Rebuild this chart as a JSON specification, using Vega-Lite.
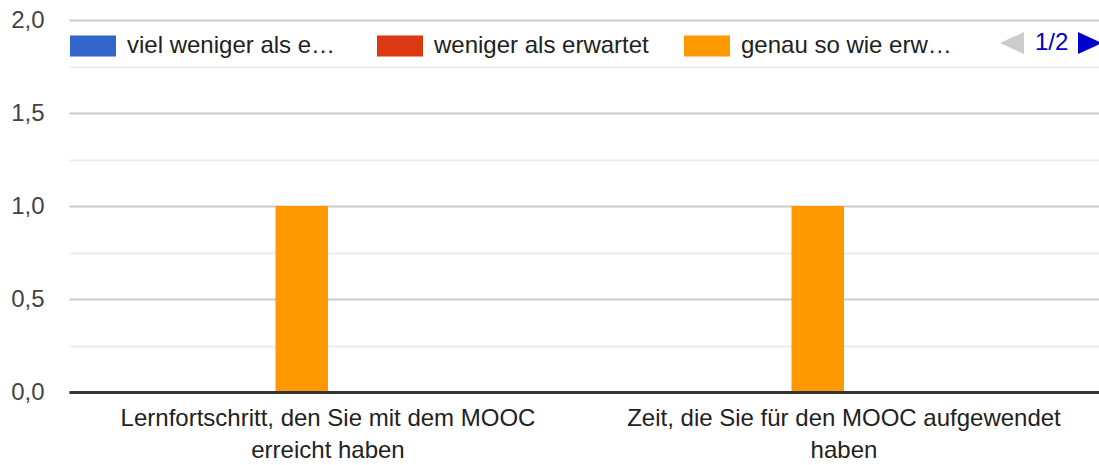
{
  "$schema": "https://vega.github.io/schema/vega-lite/v6.json",
  "width": 1030,
  "height": 372,
  "autosize": {"type": "none"},
  "padding": {"left": 69, "top": 20, "right": 0, "bottom": 73},
  "background": "white",
  "config": {"view": {"stroke": null}, "font": "Liberation Sans"},
  "datasets": {
    "antworten": [
      {"kategorie": "Lernfortschritt, den Sie mit dem MOOC erreicht haben", "antwort": "viel weniger als erwartet", "anzahl": 0},
      {"kategorie": "Lernfortschritt, den Sie mit dem MOOC erreicht haben", "antwort": "weniger als erwartet", "anzahl": 0},
      {"kategorie": "Lernfortschritt, den Sie mit dem MOOC erreicht haben", "antwort": "genau so wie erwartet", "anzahl": 1},
      {"kategorie": "Lernfortschritt, den Sie mit dem MOOC erreicht haben", "antwort": "mehr als erwartet", "anzahl": 0},
      {"kategorie": "Lernfortschritt, den Sie mit dem MOOC erreicht haben", "antwort": "viel mehr als erwartet", "anzahl": 0},
      {"kategorie": "Lernfortschritt, den Sie mit dem MOOC erreicht haben", "antwort": "keine Angabe", "anzahl": 0},
      {"kategorie": "Zeit, die Sie für den MOOC aufgewendet haben", "antwort": "viel weniger als erwartet", "anzahl": 0},
      {"kategorie": "Zeit, die Sie für den MOOC aufgewendet haben", "antwort": "weniger als erwartet", "anzahl": 0},
      {"kategorie": "Zeit, die Sie für den MOOC aufgewendet haben", "antwort": "genau so wie erwartet", "anzahl": 1},
      {"kategorie": "Zeit, die Sie für den MOOC aufgewendet haben", "antwort": "mehr als erwartet", "anzahl": 0},
      {"kategorie": "Zeit, die Sie für den MOOC aufgewendet haben", "antwort": "viel mehr als erwartet", "anzahl": 0},
      {"kategorie": "Zeit, die Sie für den MOOC aufgewendet haben", "antwort": "keine Angabe", "anzahl": 0}
    ],
    "seite": [{"text": "1/2"}]
  },
  "layer": [
    {
      "data": {"name": "antworten"},
      "mark": {"type": "bar"},
      "encoding": {
        "x": {
          "field": "kategorie",
          "type": "nominal",
          "sort": null,
          "scale": {"paddingInner": 0.3895, "paddingOuter": 0.1928, "align": 0.51},
          "axis": {
            "title": null,
            "labelAngle": 0,
            "ticks": false,
            "domain": true,
            "domainColor": "#333333",
            "domainWidth": 3,
            "zindex": 1,
            "labelPadding": 14,
            "labelFontSize": 24,
            "labelColor": "#222222",
            "labelLineHeight": 32,
            "labelBaseline": "top",
            "labelLimit": 600,
            "labelExpr": "datum.value == 'Lernfortschritt, den Sie mit dem MOOC erreicht haben' ? ['Lernfortschritt, den Sie mit dem MOOC', 'erreicht haben'] : ['Zeit, die Sie für den MOOC aufgewendet', 'haben']"
          }
        },
        "xOffset": {
          "field": "antwort",
          "type": "nominal",
          "scale": {
            "domain": ["viel weniger als erwartet", "weniger als erwartet", "genau so wie erwartet", "mehr als erwartet", "viel mehr als erwartet", "keine Angabe"],
            "paddingInner": 0,
            "paddingOuter": 0
          }
        },
        "y": {
          "field": "anzahl",
          "type": "quantitative",
          "scale": {"domain": [0, 2], "nice": false},
          "axis": {
            "title": null,
            "values": [0, 0.25, 0.5, 0.75, 1, 1.25, 1.5, 1.75, 2],
            "labelExpr": "(datum.value * 2) % 1 == 0 ? replace(format(datum.value, '.1f'), '.', ',') : ''",
            "domain": false,
            "ticks": false,
            "grid": true,
            "gridColor": {"condition": {"test": "(datum.value * 2) % 1 == 0", "value": "#cccccc"}, "value": "#ebebeb"},
            "gridWidth": 2,
            "labelPadding": 25,
            "labelFontSize": 24,
            "labelColor": "#444444",
            "labelBaseline": "middle"
          }
        },
        "color": {
          "field": "antwort",
          "type": "nominal",
          "scale": {
            "domain": ["viel weniger als erwartet", "weniger als erwartet", "genau so wie erwartet", "mehr als erwartet", "viel mehr als erwartet", "keine Angabe"],
            "range": ["#3366cc", "#dc3912", "#ff9900", "#109618", "#990099", "#0099c6"]
          },
          "legend": {
            "values": ["viel weniger als erwartet", "weniger als erwartet", "genau so wie erwartet"],
            "title": null,
            "orient": "none",
            "legendX": 1,
            "legendY": 3,
            "direction": "horizontal",
            "columns": 3,
            "gridAlign": "all",
            "columnPadding": 35,
            "padding": 0,
            "symbolType": "M-1,-0.4565H1V0.4565H-1Z",
            "symbolSize": 2116,
            "symbolStrokeWidth": 0,
            "symbolOpacity": 1,
            "labelOffset": 11,
            "labelLimit": 215,
            "labelFontSize": 24,
            "labelColor": "#222222"
          }
        }
      }
    },
    {
      "data": {"name": "seite"},
      "mark": {"type": "point", "shape": "M-1,0L1,-0.92L1,0.92Z", "filled": true, "size": 576, "color": "#cccccc", "opacity": 1, "xOffset": 168},
      "encoding": {
        "x": {"datum": "Zeit, die Sie für den MOOC aufgewendet haben", "type": "nominal"},
        "y": {"datum": 1.876, "type": "quantitative"}
      }
    },
    {
      "data": {"name": "seite"},
      "mark": {"type": "text", "align": "left", "baseline": "middle", "dx": 191, "fontSize": 24, "color": "#0000cc"},
      "encoding": {
        "x": {"datum": "Zeit, die Sie für den MOOC aufgewendet haben", "type": "nominal"},
        "y": {"datum": 1.876, "type": "quantitative"},
        "text": {"field": "text"}
      }
    },
    {
      "data": {"name": "seite"},
      "mark": {"type": "point", "shape": "M1,0L-1,-0.92L-1,0.92Z", "filled": true, "size": 576, "color": "#0000cc", "opacity": 1, "xOffset": 246},
      "encoding": {
        "x": {"datum": "Zeit, die Sie für den MOOC aufgewendet haben", "type": "nominal"},
        "y": {"datum": 1.876, "type": "quantitative"}
      }
    }
  ]
}
